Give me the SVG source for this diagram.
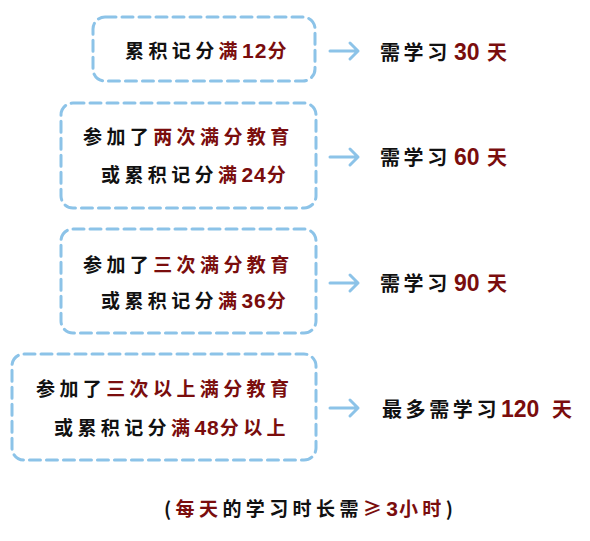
<svg xmlns="http://www.w3.org/2000/svg" width="590" height="541" viewBox="0 0 590 541">
<style>
.box{fill:none;stroke:#8cc3e8;stroke-width:3;stroke-dasharray:11 6;stroke-linecap:round}
.t{font-family:"Noto Sans CJK SC","Noto Sans",sans-serif;font-size:19px;font-weight:bold;fill:#111;letter-spacing:4.4px}
.rt{font-family:"Noto Sans CJK SC","Noto Sans",sans-serif;font-size:20px;font-weight:bold;fill:#111;letter-spacing:3.6px}
.r{fill:#7a0d0d}
.d{font-family:"Liberation Sans",Arial,sans-serif;font-size:21px;letter-spacing:1px}
.dr{font-family:"Liberation Sans",Arial,sans-serif;font-size:23px;letter-spacing:0}
.arr{fill:none;stroke:#8cc3e8;stroke-width:3;stroke-linecap:round;stroke-linejoin:round}
</style>
<rect width="590" height="541" fill="#fff"/>
<g id="node1">
<rect class="box" x="93" y="17" width="222" height="64" rx="12"/>
<text class="t" x="125" y="58">累积记分<tspan class="r">满<tspan class="d">12</tspan>分</tspan></text>
</g>
<g id="node2">
<rect class="box" x="61" y="103" width="255" height="105" rx="12"/>
<text class="t" x="83" y="144">参加了<tspan class="r">两次满分教育</tspan></text>
<text class="t" x="101" y="182">或累积记分<tspan class="r">满<tspan class="d">24</tspan>分</tspan></text>
</g>
<g id="node3">
<rect class="box" x="61" y="229" width="255" height="104" rx="12"/>
<text class="t" x="83" y="272">参加了<tspan class="r">三次满分教育</tspan></text>
<text class="t" x="101" y="308">或累积记分<tspan class="r">满<tspan class="d">36</tspan>分</tspan></text>
</g>
<g id="node4">
<rect class="box" x="12" y="354" width="304" height="106" rx="12"/>
<text class="t" x="36" y="396">参加了<tspan class="r">三次以上满分教育</tspan></text>
<text class="t" x="54" y="435">或累积记分<tspan class="r">满<tspan class="d">48</tspan>分以上</tspan></text>
</g>
<g id="res1"><text class="rt" x="380" y="60">需学习<tspan class="r"><tspan class="dr" x="454">30</tspan><tspan x="487">天</tspan></tspan></text></g>
<g id="res2"><text class="rt" x="380" y="165">需学习<tspan class="r"><tspan class="dr" x="454">60</tspan><tspan x="487">天</tspan></tspan></text></g>
<g id="res3"><text class="rt" x="380" y="291">需学习<tspan class="r"><tspan class="dr" x="454">90</tspan><tspan x="487">天</tspan></tspan></text></g>
<g id="res4"><text class="rt" x="382" y="417">最多需学习<tspan class="r"><tspan class="dr" x="501">120</tspan><tspan x="552">天</tspan></tspan></text></g>
<g id="connectors">
<path class="arr" d="M330 51H358M350 43L358 51L350 59"/>
<path class="arr" d="M330 157H358M350 149L358 157L350 165"/>
<path class="arr" d="M330 283H358M350 275L358 283L350 291"/>
<path class="arr" d="M330 408H358M350 400L358 408L350 416"/>
</g>
<g id="note"><text class="t" x="164" y="516">(<tspan class="r">每天</tspan>的学习时长需<tspan class="r">≥<tspan class="d">3</tspan>小时</tspan>)</text></g>
</svg>
